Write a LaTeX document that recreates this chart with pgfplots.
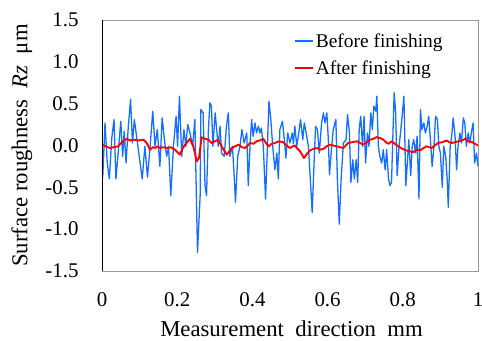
\documentclass[border=0pt]{standalone}
\usepackage{fontspec}
\setmainfont{Liberation Serif}
\usepackage{pgfplots}
\pgfplotsset{compat=1.18}
\definecolor{myblue}{RGB}{20,110,255}
\definecolor{myred}{RGB}{255,0,0}
\begin{document}
\begin{tikzpicture}[font=\fontsize{21}{25}\selectfont]
\useasboundingbox (-102bp,-70bp) rectangle (380bp,271bp);
\begin{axis}[
  scale only axis,
  width=376bp, height=251bp,
  xmin=0, xmax=1, ymin=-1.5, ymax=1.5,
  xtick={0,0.2,0.4,0.6,0.8,1},
  ytick={-1.5,-1,-0.5,0,0.5,1,1.5},
  major tick length=0pt,
  axis line style={draw=gray!80, line width=0.8pt},
  /pgf/number format/assume math mode=true,
  xticklabel={\pgfmathprintnumber{\tick}},
  yticklabel={\pgfmathprintnumber[fixed,fixed zerofill,precision=1]{\tick}},
  yticklabel style={xshift=-20bp},
  xticklabel style={yshift=-18bp},
  xlabel={Measurement\ \ direction\ \ mm},
  ylabel={Surface roughness\ \ \textit{Rz}\ \ μm},
  label style={font=\fontsize{22.8}{27}\selectfont},
  xlabel style={at={(axis description cs:0.504,-0.259)}, anchor=base},
  ylabel style={at={(axis description cs:-0.213,0.5)}, anchor=center},
  legend style={at={(axis description cs:0.51,0.955)}, anchor=north west, draw=none, fill=none,
    font=\fontsize{19.5}{22}\selectfont, row sep=8bp, inner sep=0pt, nodes={inner sep=2pt}},
  legend cell align=left,
  legend image code/.code={\draw[#1] (0bp,0bp) -- (18bp,0bp);},
]
\addplot[myblue, line width=1.3pt, line join=round] coordinates {
(0,-0.10)(0.002,-0.38)(0.008,0.27)(0.014,-0.21)(0.0195,-0.40)(0.026,0.09)(0.032,0.31)(0.037,-0.40)
(0.043,-0.09)(0.050,0.29)(0.055,-0.13)(0.059,0.17)(0.064,-0.21)(0.070,0.23)(0.076,0.55)(0.081,0.03)
(0.086,0.31)(0.092,0.11)(0.099,-0.13)(0.107,-0.40)(0.114,-0.01)(0.121,-0.38)(0.128,-0.01)(0.135,0.41)
(0.141,-0.01)(0.147,0.19)(0.154,-0.25)(0.160,0.33)(0.167,0.03)(0.172,-0.13)(0.177,-0.01)(0.183,-0.60)
(0.190,-0.01)(0.197,0.35)(0.201,-0.01)(0.206,0.59)(0.212,-0.13)(0.218,0.19)(0.223,-0.01)(0.228,0.25)
(0.234,0.15)(0.241,-0.01)(0.247,0.31)(0.254,-1.28)(0.261,-0.60)(0.263,0.43)(0.269,0.39)(0.274,-0.48)
(0.278,-0.60)(0.283,0.19)(0.287,0.51)(0.291,0.47)(0.295,-0.01)(0.301,0.39)(0.305,0.19)(0.309,-0.01)
(0.314,0.23)(0.318,-0.09)(0.325,-0.13)(0.331,0.23)(0.336,0.39)(0.340,-0.13)(0.347,-0.01)(0.352,-0.40)
(0.355,-0.68)(0.361,-0.13)(0.367,-0.01)(0.372,0.19)(0.378,0.03)(0.385,0.15)(0.389,-0.48)(0.394,0.03)
(0.398,0.31)(0.402,0.11)(0.407,0.27)(0.411,0.15)(0.416,0.23)(0.420,0.15)(0.424,0.21)(0.429,-0.01)
(0.435,-0.64)(0.440,-0.01)(0.444,0.53)(0.449,0.31)(0.454,-0.01)(0.460,-0.29)(0.465,-0.09)(0.469,-0.40)
(0.473,0.19)(0.480,0.29)(0.485,0.07)(0.489,-0.15)(0.494,0.15)(0.500,0.03)(0.506,0.15)(0.509,0.02)
(0.513,0.23)(0.518,-0.01)(0.522,0.11)(0.528,0.31)(0.534,0.07)(0.538,0.27)(0.543,0.15)(0.549,-0.01)
(0.555,-0.48)(0.559,-0.80)(0.564,-0.21)(0.568,0.23)(0.573,0.19)(0.578,-0.09)(0.584,0.27)(0.589,0.39)
(0.593,0.27)(0.598,0.39)(0.602,0.07)(0.605,-0.35)(0.611,-0.01)(0.615,0.19)(0.622,0.31)(0.626,-0.40)
(0.631,-0.94)(0.636,-0.40)(0.642,0.03)(0.649,0.07)(0.653,0.37)(0.658,0.15)(0.662,-0.44)(0.667,-0.17)
(0.671,-0.40)(0.676,-0.17)(0.680,-0.44)(0.684,0.19)(0.688,0.35)(0.693,-0.01)(0.697,0.35)(0.701,-0.21)
(0.706,0.15)(0.710,-0.01)(0.715,0.39)(0.719,0.19)(0.723,0.47)(0.728,0.41)(0.731,0.59)(0.735,-0.01)
(0.739,-0.13)(0.744,-0.21)(0.748,-0.05)(0.753,-0.29)(0.757,-0.05)(0.762,-0.40)(0.766,-0.48)(0.770,-0.44)
(0.777,0.63)(0.781,0.39)(0.785,-0.36)(0.790,-0.01)(0.794,0.15)(0.799,0.39)(0.803,0.59)(0.808,-0.48)
(0.812,-0.21)(0.816,0.07)(0.821,-0.36)(0.825,-0.01)(0.829,0.07)(0.834,-0.09)(0.838,0.11)(0.843,-0.64)
(0.847,0.43)(0.851,0.19)(0.856,0.27)(0.860,0.15)(0.865,0.23)(0.869,0.35)(0.874,0.03)(0.878,-0.25)
(0.883,-0.01)(0.887,0.35)(0.892,0.31)(0.896,-0.01)(0.900,-0.09)(0.905,-0.50)(0.909,-0.01)(0.914,-0.13)
(0.918,-0.40)(0.921,-0.74)(0.926,-0.01)(0.930,0.11)(0.934,0.33)(0.939,0.11)(0.943,-0.29)(0.947,-0.01)
(0.952,0.15)(0.956,0.03)(0.961,0.33)(0.965,0.27)(0.969,-0.01)(0.974,0.15)(0.978,0.03)(0.983,0.17)
(0.987,0.27)(0.991,-0.21)(0.996,-0.09)(1.0,-0.25)
};
\addlegendentry{Before finishing}
\addplot[myred, line width=1.9pt, line join=round] coordinates {
(0,0.01)(0.010,-0.01)(0.021,-0.03)(0.032,-0.02)(0.043,-0.01)(0.055,0.05)(0.066,0.08)(0.075,0.06)(0.083,0.07)
(0.097,0.06)(0.110,0.07)(0.119,0.03)(0.128,-0.05)(0.135,-0.02)
(0.141,-0.03)(0.148,-0.01)(0.154,-0.03)(0.163,-0.02)(0.172,-0.03)(0.183,-0.02)(0.194,-0.05)(0.207,-0.11)(0.214,-0.04)(0.221,0.01)(0.234,0.08)(0.243,-0.01)
(0.252,-0.19)(0.258,-0.15)(0.265,0.10)(0.274,0.08)(0.283,0.07)(0.291,0.03)(0.300,0.05)(0.309,0.07)(0.318,-0.01)(0.325,-0.06)(0.332,-0.11)
(0.345,-0.03)(0.354,-0.01)(0.363,0.01)(0.372,-0.02)(0.381,-0.03)(0.394,0.03)(0.403,0.02)(0.411,0.05)(0.420,0.06)(0.429,0.08)(0.436,0.03)(0.443,-0.01)(0.451,0.02)(0.460,0.03)
(0.471,0.05)(0.482,0.04)(0.491,0.0)(0.500,-0.03)(0.507,-0.01)(0.513,0.0)(0.520,-0.04)(0.527,-0.07)(0.537,-0.15)(0.545,-0.10)(0.553,-0.06)(0.562,-0.04)(0.571,-0.03)(0.580,-0.05)(0.589,-0.04)
(0.597,-0.01)(0.606,0.01)(0.615,0.0)(0.624,-0.01)(0.633,-0.02)(0.642,-0.03)(0.655,0.03)(0.666,0.04)(0.677,0.05)(0.686,0.03)(0.695,0.01)(0.704,0.04)(0.713,0.07)(0.722,0.08)(0.730,0.10)
(0.739,0.09)(0.748,0.07)(0.755,0.04)(0.762,0.02)(0.770,0.05)(0.779,0.02)(0.788,-0.01)(0.799,-0.04)(0.810,-0.06)(0.819,-0.07)(0.828,-0.08)(0.837,-0.05)(0.846,-0.06)(0.855,-0.03)(0.864,-0.01)
(0.870,-0.02)(0.877,-0.03)(0.885,0.0)(0.894,0.03)(0.905,0.04)(0.917,0.06)(0.923,0.04)(0.930,0.03)(0.939,0.04)(0.948,0.05)(0.957,0.06)(0.966,0.08)(0.975,0.05)(0.984,0.04)(0.992,0.02)(1.0,0.0)
};
\addlegendentry{After finishing}
\draw[black, line width=0.8pt] (rel axis cs:0,1) -- (rel axis cs:0,0) -- (rel axis cs:1,0);
\end{axis}
\end{tikzpicture}
\end{document}
